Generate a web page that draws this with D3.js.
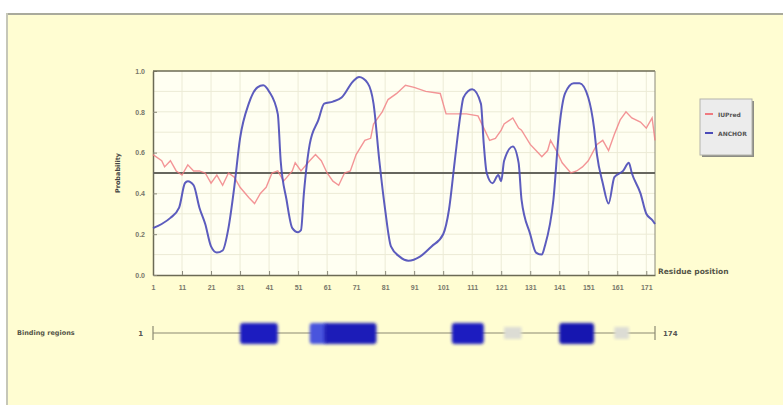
<!DOCTYPE html>
<html>
<head>
<meta charset="utf-8">
<script src="https://cdn.jsdelivr.net/npm/d3@7/dist/d3.min.js"></script>
<style>
  body { margin: 0; background: #fff; }
  svg { display: block; font-family: "DejaVu Sans", Arial, sans-serif; }
</style>
</head>
<body>
<svg width="783" height="405"></svg>
<script>
// ---- data ----
var seqLength = 174;
var xTicks = [1, 11, 21, 31, 41, 51, 61, 71, 81, 91, 101, 111, 121, 131, 141, 151, 161, 171];
var yTicks = [0, 0.2, 0.4, 0.6, 0.8, 1.0];

// IUPred (red)
var iupredPos = [1, 4, 5, 7, 9, 11, 13, 15, 17, 19, 21, 23, 25, 27, 29, 31, 34, 36, 38, 40, 42, 44, 46, 49, 50, 52, 55, 57, 59, 61, 63, 65, 67, 69, 71, 74, 76, 77, 80, 82, 85, 88, 91, 95, 100, 102, 109, 113, 115, 117, 119, 121, 122, 125, 127, 128, 131, 133, 135, 137, 138, 140, 142, 145, 147, 149, 151, 154, 156, 158, 160, 162, 164, 166, 169, 171, 173, 174];
var iupredVal = [0.59, 0.56, 0.53, 0.56, 0.51, 0.49, 0.54, 0.51, 0.51, 0.50, 0.45, 0.49, 0.44, 0.50, 0.48, 0.43, 0.38, 0.35, 0.40, 0.43, 0.50, 0.51, 0.46, 0.51, 0.55, 0.51, 0.56, 0.59, 0.56, 0.50, 0.46, 0.44, 0.50, 0.51, 0.59, 0.66, 0.67, 0.74, 0.80, 0.86, 0.89, 0.93, 0.92, 0.90, 0.89, 0.79, 0.79, 0.78, 0.72, 0.66, 0.67, 0.71, 0.74, 0.77, 0.72, 0.71, 0.64, 0.61, 0.58, 0.61, 0.66, 0.61, 0.55, 0.50, 0.51, 0.53, 0.56, 0.64, 0.66, 0.61, 0.69, 0.76, 0.80, 0.77, 0.75, 0.72, 0.77, 0.66];

// ANCHOR (blue)
var anchorPos = [1, 4, 7, 10, 12, 13, 15, 17, 19, 21, 23, 25, 27, 29, 31, 34, 37, 39, 41, 44, 45, 47, 49, 51, 52, 53, 55, 58, 60, 63, 66, 70, 72, 75, 77, 79, 81, 83, 86, 89, 93, 97, 101, 103, 105, 107, 108, 111, 114, 115, 116, 118, 120, 121, 122, 125, 127, 128, 131, 133, 135, 136, 139, 141, 143, 146, 148, 151, 153, 154, 156, 158, 160, 163, 165, 166, 169, 171, 173, 174];
var anchorVal = [0.23, 0.25, 0.28, 0.33, 0.45, 0.46, 0.44, 0.33, 0.25, 0.14, 0.11, 0.12, 0.23, 0.43, 0.67, 0.84, 0.92, 0.93, 0.90, 0.79, 0.56, 0.37, 0.23, 0.21, 0.22, 0.40, 0.64, 0.76, 0.84, 0.85, 0.87, 0.95, 0.97, 0.94, 0.84, 0.56, 0.32, 0.14, 0.09, 0.07, 0.09, 0.14, 0.20, 0.32, 0.56, 0.79, 0.87, 0.91, 0.84, 0.64, 0.50, 0.45, 0.49, 0.46, 0.56, 0.63, 0.55, 0.37, 0.20, 0.11, 0.10, 0.14, 0.37, 0.72, 0.89, 0.94, 0.94, 0.87, 0.72, 0.59, 0.45, 0.35, 0.48, 0.51, 0.55, 0.50, 0.40, 0.30, 0.27, 0.25];

// predicted binding regions
var bindingStart = [31, 55, 60, 104, 141];
var bindingEnd   = [44, 61, 78, 115, 153];
var bindingShade = ["#1c1cc0", "#4a55dd", "#1a1ab8", "#1c1cc0", "#1414b0"];
var weakStart = [122, 160];
var weakEnd   = [128, 165];

var seriesNames  = ["IUPred", "ANCHOR"];
var seriesColors = ["#f07a80", "#4a4ab8"];

var svg = d3.select("svg");

// panel background + frame
svg.append("rect").attr("x", 7).attr("y", 13).attr("width", 776).attr("height", 392)
  .attr("fill", "#fffdd2");
svg.append("line").attr("x1", 7).attr("x2", 783).attr("y1", 14).attr("y2", 14)
  .attr("stroke", "#a9aa9c").attr("stroke-width", 2);
svg.append("line").attr("x1", 7).attr("x2", 7).attr("y1", 13).attr("y2", 405)
  .attr("stroke", "#c6c7b8").attr("stroke-width", 2);

var x = d3.scaleLinear().domain([1, seqLength]).range([153, 655]);
var y = d3.scaleLinear().domain([0, 1]).range([275, 71]);

const g = svg.append("g");

// plot background
g.append("rect").attr("x", x(1)).attr("y", y(1))
  .attr("width", x(seqLength) - x(1)).attr("height", y(0) - y(1))
  .attr("fill", "#fffff2");

// grid
g.selectAll(".hgrid").data(d3.range(0.1, 1, 0.1)).enter().append("line")
  .attr("x1", x(1)).attr("x2", x(seqLength))
  .attr("y1", d => y(d)).attr("y2", d => y(d))
  .attr("stroke", "#ecebd6").attr("stroke-width", 1);
g.selectAll(".vgrid").data(xTicks.slice(1)).enter().append("line")
  .attr("x1", d => x(d)).attr("x2", d => x(d))
  .attr("y1", y(0)).attr("y2", y(1))
  .attr("stroke", "#ecebd6").attr("stroke-width", 1);

// axes
var xAxis = d3.axisBottom(x).tickValues(xTicks).tickSizeInner(-4).tickSizeOuter(0).tickPadding(10);
var yAxis = d3.axisLeft(y).tickValues(yTicks).tickFormat(d3.format(".1f")).tickSizeInner(-4).tickSizeOuter(0).tickPadding(8);

var gx = g.append("g").attr("transform", "translate(0," + y(0) + ")").call(xAxis);
var gy = g.append("g").attr("transform", "translate(" + x(1) + ",0)").call(yAxis);
[gx, gy].forEach(function(ax) {
  ax.select(".domain").attr("stroke", "#6b6a55").attr("stroke-width", 1.5);
  ax.selectAll(".tick line").attr("stroke", "#8a897a");
  ax.selectAll("text").attr("fill", "#77776a").attr("font-size", 7).attr("font-weight", "bold");
});

// top + right frame of the plot
g.append("line").attr("x1", x(1)).attr("x2", x(seqLength)).attr("y1", y(1)).attr("y2", y(1))
  .attr("stroke", "#6b6a55").attr("stroke-width", 1.5);
g.append("line").attr("x1", x(seqLength)).attr("x2", x(seqLength)).attr("y1", y(1)).attr("y2", y(0))
  .attr("stroke", "#8a897a").attr("stroke-width", 1);

// 0.5 cut-off line
g.append("line").attr("x1", x(1)).attr("x2", x(seqLength)).attr("y1", y(0.5)).attr("y2", y(0.5))
  .attr("stroke", "#66665e").attr("stroke-width", 2);

// series lines
var line = d3.line().x(d => x(d[0])).y(d => y(d[1]));
var smooth = d3.line().x(d => x(d[0])).y(d => y(d[1])).curve(d3.curveMonotoneX);
g.append("path").datum(d3.zip(iupredPos, iupredVal))
  .attr("d", line).attr("fill", "none")
  .attr("stroke", seriesColors[0]).attr("stroke-width", 1.4).attr("stroke-opacity", 0.8);
g.append("path").datum(d3.zip(anchorPos, anchorVal))
  .attr("d", smooth).attr("fill", "none")
  .attr("stroke", seriesColors[1]).attr("stroke-width", 2).attr("stroke-opacity", 0.9);

// axis titles
svg.append("text").attr("transform", "translate(120," + y(0.5) + ") rotate(-90)")
  .attr("text-anchor", "middle").attr("font-size", 6.5).attr("font-weight", "bold")
  .attr("fill", "#444").text("Probability");
svg.append("text").attr("x", 658).attr("y", y(0) - 1)
  .attr("font-size", 7.5).attr("font-weight", "bold").attr("fill", "#555548")
  .text("Residue position");

// legend
var leg = svg.append("g").attr("transform", "translate(700,99)");
leg.append("rect").attr("x", 2).attr("y", 2).attr("width", 52).attr("height", 56).attr("fill", "#8c8c84");
leg.append("rect").attr("width", 52).attr("height", 56).attr("fill", "#ececec")
  .attr("stroke", "#b4b4ac").attr("stroke-width", 1);
seriesNames.forEach(function(name, i) {
  leg.append("line").attr("x1", 5).attr("x2", 13).attr("y1", 15 + i * 19).attr("y2", 15 + i * 19)
    .attr("stroke", seriesColors[i]).attr("stroke-width", 2);
  leg.append("text").attr("x", 18).attr("y", 18 + i * 19)
    .attr("font-size", 6).attr("font-weight", "bold").attr("fill", "#555").text(name);
});

// binding regions track
var trackY = 333;
var defs = svg.append("defs");
defs.append("filter").attr("id", "soft").append("feGaussianBlur").attr("stdDeviation", 1.6);

svg.append("text").attr("x", 17).attr("y", trackY + 2)
  .attr("font-size", 6.5).attr("font-weight", "bold").attr("fill", "#555548").text("Binding regions");
svg.append("line").attr("x1", x(1)).attr("x2", x(seqLength)).attr("y1", trackY).attr("y2", trackY)
  .attr("stroke", "#8b8a72").attr("stroke-width", 1.2);
[1, seqLength].forEach(function(p) {
  svg.append("line").attr("x1", x(p)).attr("x2", x(p)).attr("y1", trackY - 7).attr("y2", trackY + 7)
    .attr("stroke", "#8b8a72").attr("stroke-width", 1.2);
});
svg.append("text").attr("x", x(1) - 10).attr("y", trackY + 2.5).attr("text-anchor", "end")
  .attr("font-size", 7).attr("font-weight", "bold").attr("fill", "#555").text("1");
svg.append("text").attr("x", x(seqLength) + 8).attr("y", trackY + 2.5)
  .attr("font-size", 7).attr("font-weight", "bold").attr("fill", "#555").text(String(seqLength));

svg.selectAll(".weak").data(d3.zip(weakStart, weakEnd)).enter().append("rect")
  .attr("x", d => x(d[0])).attr("y", trackY - 6)
  .attr("width", d => x(d[1]) - x(d[0])).attr("height", 12)
  .attr("fill", "#dcdcd4").attr("filter", "url(#soft)");

svg.selectAll(".bind").data(d3.range(bindingStart.length)).enter().append("rect")
  .attr("x", i => x(bindingStart[i])).attr("y", trackY - 10)
  .attr("width", i => x(bindingEnd[i]) - x(bindingStart[i])).attr("height", 21)
  .attr("rx", 3)
  .attr("fill", i => bindingShade[i]).attr("filter", "url(#soft)");
</script>
</body>
</html>
